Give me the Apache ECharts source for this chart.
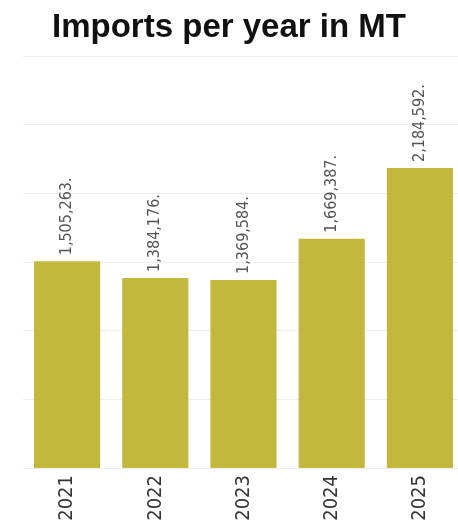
<!DOCTYPE html>
<html>
<head>
<meta charset="utf-8">
<script src="https://cdn.jsdelivr.net/npm/echarts@6/dist/echarts.min.js"></script>
<style>
	html, body { margin: 0; padding: 0; background: #fff; }
	#main { width: 458px; height: 520px; }
</style>
</head>
<body>
<div id="main"></div>
<script>
var years = ['2021', '2022', '2023', '2024', '2025'];
var imports = [1505263, 1384176, 1369584, 1669387, 2184592];
var valueLabels = ['1,505,263.', '1,384,176.', '1,369,584.', '1,669,387.', '2,184,592.'];

var chart = echarts.init(document.getElementById('main'));

chart.setOption({
	backgroundColor : '#fff',
	title : {
		text : 'Imports per year in MT',
		left : 'center',
		top : 6,
		textStyle : {
			fontFamily : 'Liberation Sans',
			fontWeight : 'bold',
			fontSize : 33,
			color : '#111'
		}
	},
	grid : {
		left : 23,
		right : -6,
		top : 56,
		bottom : 52,
		outerBoundsMode : 'none'
	},
	xAxis : {
		type : 'category',
		data : years,
		axisLine : { show : false },
		axisTick : { show : false },
		axisLabel : {
			rotate : 90,
			margin : 7,
			fontFamily : 'DejaVu Sans Condensed',
			fontSize : 20,
			color : '#333'
		}
	},
	yAxis : {
		type : 'value',
		min : 0,
		max : 3000000,
		interval : 500000,
		axisLabel : { show : false },
		axisLine : { show : false },
		axisTick : { show : false },
		splitLine : { lineStyle : { color : '#eeeeee', width : 1 } }
	},
	series : [ {
		type : 'bar',
		data : imports,
		barCategoryGap : '25%',
		itemStyle : { color : '#c2b83d' },
		label : {
			show : true,
			position : 'top',
			rotate : 90,
			align : 'left',
			verticalAlign : 'middle',
			distance : 6,
			fontFamily : 'DejaVu Sans Condensed',
			fontSize : 16,
			color : '#555',
			formatter : function (p) { return valueLabels[p.dataIndex]; }
		}
	} ]
});
</script>
</body>
</html>
